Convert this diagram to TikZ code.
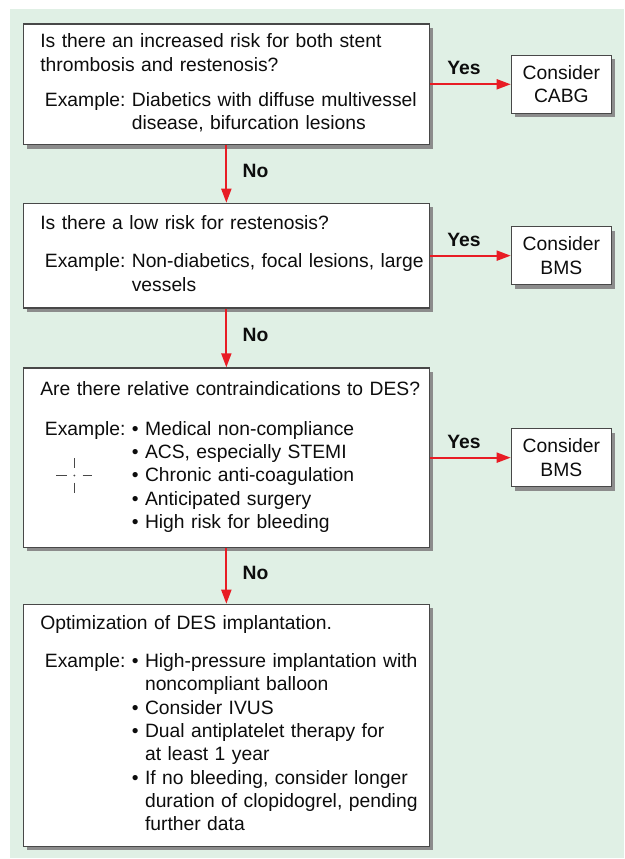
\documentclass[tikz,border=0pt]{standalone}
\usepackage{fontspec}
\setmainfont{Liberation Sans}
\definecolor{panelgreen}{RGB}{224,240,229}
\definecolor{flowred}{RGB}{232,28,36}
\definecolor{framegray}{RGB}{72,72,72}
\usetikzlibrary{arrows.meta,positioning,shadows}
\newcommand{\exlabel}{\hspace*{4.6pt}Example:~}
\newcommand{\itm}{\textbullet\ }
\newcommand{\itmcont}{\phantom{\textbullet\ }}

\begin{document}
\begin{tikzpicture}[x=1pt,y=-1pt,font=\fontsize{19.3pt}{23.33pt}\selectfont,
    qbox/.style={draw=framegray,line width=1.3pt,fill=white,text width=372pt,inner xsep=17pt,align=left,text=black!95,
      drop shadow={shadow xshift=4pt,shadow yshift=-4pt,fill=black!45,opacity=1}},
    cbox/.style={draw=framegray,line width=1.3pt,fill=white,minimum width=100pt,minimum height=58pt,inner sep=0pt,align=center,text=black!95,
      drop shadow={shadow xshift=4pt,shadow yshift=-4pt,fill=black!45,opacity=1}},
    arr/.style={-{Triangle[length=14pt,width=10pt]},line width=1.9pt,flowred},
    lbl/.style={font=\fontsize{19.3pt}{23.33pt}\selectfont\bfseries,text=black!95}]
    \useasboundingbox (0,0) rectangle (624,859);
    \fill[panelgreen] (9.5,9) rectangle (624,858);
    % question boxes
    \node[qbox,anchor=north west,minimum height=120.7pt] (risk) at (22.7,23.3) {\begin{tabular}{@{}l@{}}Is there an increased risk for both stent\\thrombosis and restenosis?\\[12pt]
      \exlabel\begin{tabular}[t]{@{}l@{}}Diabetics with diffuse multivessel\\disease, bifurcation lesions\end{tabular}\end{tabular}};
    \node[qbox,below=57.4pt of risk,minimum height=104.6pt] (lowrisk) {\begin{tabular}{@{}l@{}}Is there a low risk for restenosis?\\[15pt]
      \exlabel\begin{tabular}[t]{@{}l@{}}Non-diabetics, focal lesions, large\\vessels\end{tabular}\end{tabular}};
    \node[qbox,below=58.7pt of lowrisk,minimum height=179.4pt] (contra) {\begin{tabular}{@{}l@{}}Are there relative contraindications to DES?\\[16pt]
      \exlabel\begin{tabular}[t]{@{}l@{}}\itm Medical non-compliance\\\itm ACS, especially STEMI\\\itm Chronic anti-coagulation\\\itm Anticipated surgery\\\itm High risk for bleeding\end{tabular}\end{tabular}};
    \node[qbox,below=55.7pt of contra,minimum height=242pt] (optim) {\begin{tabular}{@{}l@{}}Optimization of DES implantation.\\[15pt]
      \exlabel\begin{tabular}[t]{@{}l@{}}\itm High-pressure implantation with\\\itmcont noncompliant balloon\\\itm Consider IVUS\\\itm Dual antiplatelet therapy for\\\itmcont at least 1 year\\\itm If no bleeding, consider longer\\\itmcont duration of clopidogrel, pending\\\itmcont further data\end{tabular}\end{tabular}};
    % outcomes
    \node[cbox,right=80.7pt of risk] (cabg) {Consider\\CABG};
    \node[cbox,right=80.7pt of lowrisk] (bmsa) {Consider\\BMS};
    \node[cbox,right=80.7pt of contra] (bmsb) {Consider\\BMS};
    \draw[arr] (risk) -- node[lbl,above=5pt,pos=0.42] {Yes} (cabg);
    \draw[arr] (lowrisk) -- node[lbl,above=5pt,pos=0.42] {Yes} (bmsa);
    \draw[arr] (contra) -- node[lbl,above=5pt,pos=0.42] {Yes} (bmsb);
    \draw[arr] (risk) -- node[lbl,right=12pt,pos=0.45] {No} (lowrisk);
    \draw[arr] (lowrisk) -- node[lbl,right=12pt,pos=0.45] {No} (contra);
    \draw[arr] (contra) -- node[lbl,right=12pt,pos=0.45] {No} (optim);
    % registration mark
    \draw[framegray,line width=1.2pt] (74.3,458.3) -- (74.3,468.3) (74.3,482.7) -- (74.3,493.3)
      (56,475.5) -- (66.7,475.5) (82.7,475.5) -- (92.3,475.5);
    \fill[framegray] (74.3,475.5) circle (1pt);
  \end{tikzpicture}
\end{document}
